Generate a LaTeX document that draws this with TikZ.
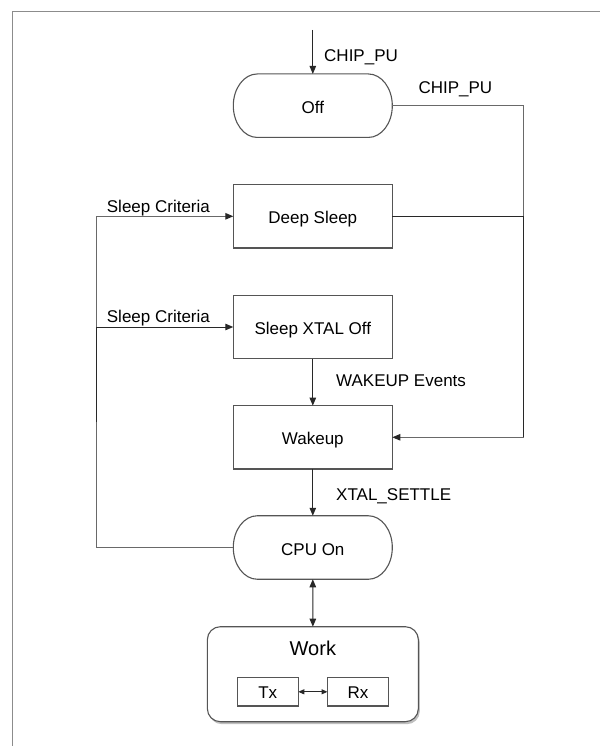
\documentclass[tikz,border=0pt]{standalone}
\usepackage{fontspec}
\setmainfont{Liberation Sans}
\usetikzlibrary{arrows.meta,shadows}
\definecolor{framegray}{RGB}{140,140,140}
\definecolor{boxgray}{RGB}{85,85,85}
\definecolor{linegray}{RGB}{105,105,105}
\definecolor{linedark}{RGB}{40,40,40}
\newcommand{\drawstadium}[1]{%
  \draw[boxline] ([xshift=24pt]#1.north west) -- ([xshift=-24pt]#1.north east)
    arc[start angle=90,end angle=-90,x radius=24pt,y radius=31.75pt]
    -- ([xshift=24pt]#1.south west)
    arc[start angle=270,end angle=90,x radius=24pt,y radius=31.75pt] -- cycle;}
\begin{document}
\begin{tikzpicture}[x=1pt,y=1pt,
  font=\fontsize{17}{20}\selectfont,
  boxline/.style={draw=boxgray, line width=1.1pt},
  statebox/.style={boxline, minimum width=159pt, minimum height=63.3pt, inner sep=0pt, outer sep=0pt, text height=15.2pt, text depth=0pt},
  stadiumbox/.style={draw=none, minimum width=159pt, minimum height=63.5pt, inner sep=0pt, outer sep=0pt, text height=15.2pt, text depth=0pt},
  smallbox/.style={boxline, fill=white, minimum width=61pt, minimum height=28.3pt, inner sep=0pt, outer sep=0pt, text height=13pt, text depth=0pt},
  conn/.style={line width=1pt, draw=linedark},
  conngray/.style={line width=1pt, draw=linegray},
  endarrow/.style={-{Triangle[length=8pt,width=6.5pt,color=linedark]}},
  botharrow/.style={{Triangle[length=8pt,width=6.5pt,color=linedark]}-{Triangle[length=8pt,width=6.5pt,color=linedark]}},
  smallboth/.style={{Triangle[length=6pt,width=5pt]}-{Triangle[length=6pt,width=5pt]}},
  lbl/.style={anchor=base west, inner sep=0pt}
]
\useasboundingbox (0,0) rectangle (600,-746);
\fill[white] (0,0) rectangle (600,-746);
% frame
\draw[framegray, line width=1.6pt] (12.6,-746) -- (12.6,-11.5) -- (600,-11.5);

% states
\node[stadiumbox] (off) at (312.8,-105.7) {Off};
\node[statebox] (deep) at (312.8,-216.3) {Deep Sleep};
\node[statebox] (xtal) at (312.8,-327) {Sleep XTAL Off};
\node[statebox] (wake) at (312.8,-437.3) {Wakeup};
\node[stadiumbox] (cpu) at (312.8,-547.5) {CPU On};
\drawstadium{off}
\drawstadium{cpu}

% work group
\node[boxline, fill=white, rounded corners=13pt, minimum width=211pt, minimum height=95pt,
      inner sep=0pt, outer sep=0pt,
      drop shadow={shadow xshift=1.5pt, shadow yshift=-2.5pt, opacity=0.25, fill=black}]
      (work) at (312.85,-674.2) {};
\node[font=\fontsize{20}{24}\selectfont, anchor=base, inner sep=0pt] (worklbl) at (312.85,-655) {Work};
\node[smallbox] (tx) at (267.8,-691.8) {Tx};
\node[smallbox] (rx) at (358,-691.8) {Rx};

% labels
\node[lbl] (l1) at (324,-62) {CHIP\_PU};
\node[lbl] (l2) at (418.3,-93.3) {CHIP\_PU};
\node[lbl] (l3) at (106.7,-212.3) {Sleep Criteria};
\node[lbl] (l4) at (106.7,-322.7) {Sleep Criteria};
\node[lbl] (l5) at (336,-386.7) {WAKEUP Events};
\node[lbl] (l6) at (336,-500) {XTAL\_SETTLE};

% connectors
\coordinate (start) at (312.8,-30);
\coordinate (rbus) at (523.5,-437.3);
\coordinate (lbus) at (96.5,-547.5);
\coordinate (ljoin) at (96.5,-422);

\draw[conn, endarrow] (start) -- (off.north);
\draw[conngray, endarrow] (off.east) -| (rbus) -- (wake.east);
\draw[conn] (deep.east) -| (rbus);
\draw[conngray, endarrow] (cpu.west) -- (lbus) |- (deep.west);
\draw[conn, endarrow] (ljoin) |- (xtal.west);
\draw[conn, endarrow] (xtal) -- (wake);
\draw[conn, endarrow] (wake) -- (cpu.north);
\draw[conn, botharrow] (cpu.south) -- (work.north);
\draw[conn, smallboth] (tx) -- (rx);
\end{tikzpicture}
\end{document}
